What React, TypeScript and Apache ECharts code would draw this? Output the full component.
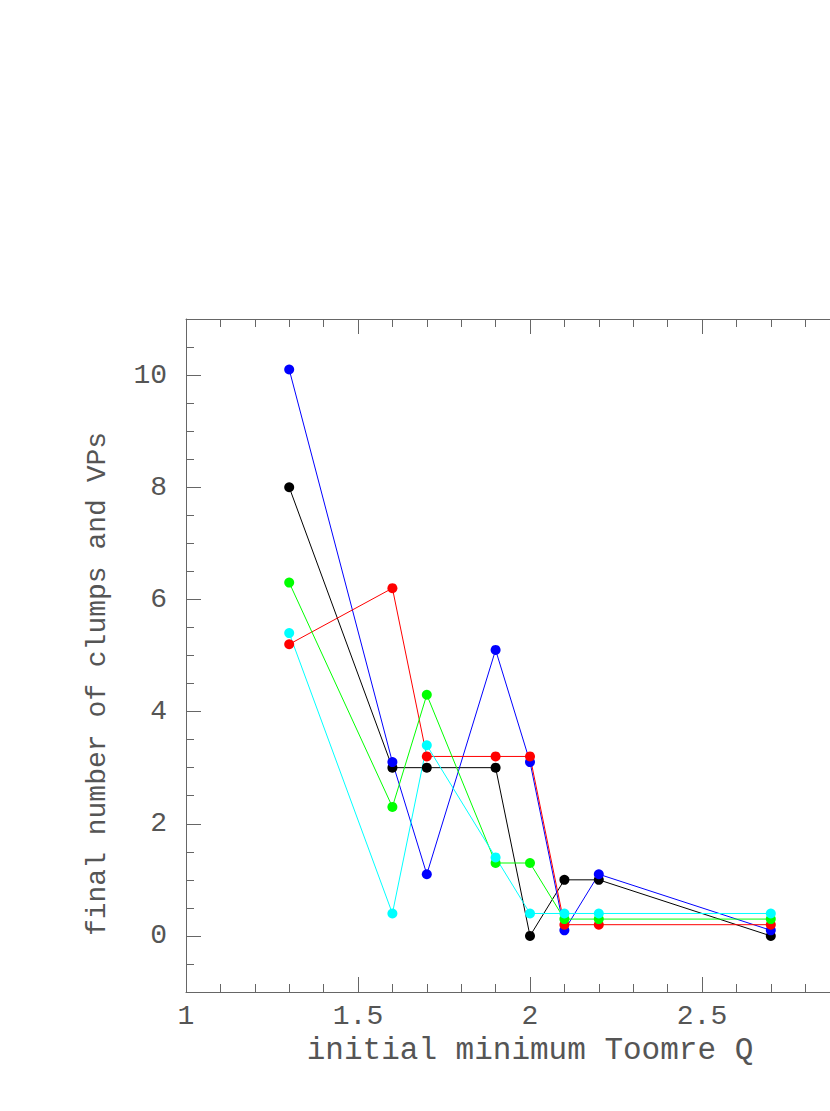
import React, { useEffect, useRef } from "react";
import * as echarts from "echarts";

const qValues = [1.3, 1.6, 1.7, 1.9, 2.0, 2.1, 2.2, 2.7];
const blackCounts = [8, 3, 3, 3, 0, 1, 1, 0];
const blueCounts = [10.1, 3.1, 1.1, 5.1, 3.1, 0.1, 1.1, 0.1];
const redCounts = [5.2, 6.2, 3.2, 3.2, 3.2, 0.2, 0.2, 0.2];
const greenCounts = [6.3, 2.3, 4.3, 1.3, 1.3, 0.3, 0.3, 0.3];
const cyanCounts = [5.4, 0.4, 3.4, 1.4, 0.4, 0.4, 0.4, 0.4];

const yMajor = [0, 2, 4, 6, 8, 10];
const yMinor = [-1, -0.5, 0, 0.5, 1, 1.5, 2, 2.5, 3, 3.5, 4, 4.5, 5, 5.5, 6, 6.5, 7, 7.5, 8, 8.5, 9, 9.5, 10, 10.5, 11];
const xLabelValues = [1, 1.5, 2, 2.5];

const seriesDefs = [
  { name: "black", color: "#000000", data: blackCounts },
  { name: "blue", color: "#0000ff", data: blueCounts },
  { name: "red", color: "#ff0000", data: redCounts },
  { name: "green", color: "#00ff00", data: greenCounts },
  { name: "cyan", color: "#00ffff", data: cyanCounts },
];

const AXIS_COLOR = "#666666";
const TEXT_COLOR = "#555555";
const FONT = "'Liberation Mono', 'DejaVu Sans Mono', monospace";

export default function App() {
  const ref = useRef<HTMLDivElement>(null);
  useEffect(() => {
    if (!ref.current) return;
    const chart = echarts.init(ref.current, undefined, { renderer: "svg" });
    const xCommon = {
      type: "value",
      min: 1,
      max: 3,
      splitLine: { show: false },
    };
    const yCommon = {
      type: "value",
      min: -1,
      max: 11,
      splitLine: { show: false },
    };
    chart.setOption({
      animation: false,
      backgroundColor: "#ffffff",
      grid: { left: 186, top: 319, width: 688, height: 673, containLabel: false },
      xAxis: [
        {
          ...xCommon,
          position: "bottom",
          interval: 0.5,
          axisLine: { show: true, onZero: false, lineStyle: { color: AXIS_COLOR, width: 1 } },
          axisTick: { show: true, inside: true, length: 15, lineStyle: { color: AXIS_COLOR } },
          axisLabel: {
            show: true,
            customValues: xLabelValues,
            margin: 10,
            color: TEXT_COLOR,
            fontFamily: FONT,
            fontSize: 28,
          },
          name: "initial minimum Toomre Q",
          nameLocation: "middle",
          nameGap: 34,
          nameTextStyle: { color: TEXT_COLOR, fontFamily: FONT, fontSize: 31 },
        },
        {
          ...xCommon,
          position: "bottom",
          interval: 0.1,
          axisLine: { show: false, onZero: false },
          axisTick: { show: true, inside: true, length: 8, lineStyle: { color: AXIS_COLOR } },
          axisLabel: { show: false },
        },
        {
          ...xCommon,
          position: "top",
          interval: 0.5,
          axisLine: { show: true, onZero: false, lineStyle: { color: AXIS_COLOR, width: 1 } },
          axisTick: { show: true, inside: true, length: 15, lineStyle: { color: AXIS_COLOR } },
          axisLabel: { show: false },
        },
        {
          ...xCommon,
          position: "top",
          interval: 0.1,
          axisLine: { show: false, onZero: false },
          axisTick: { show: true, inside: true, length: 8, lineStyle: { color: AXIS_COLOR } },
          axisLabel: { show: false },
        },
      ],
      yAxis: [
        {
          ...yCommon,
          position: "left",
          axisLine: { show: true, onZero: false, lineStyle: { color: AXIS_COLOR, width: 1 } },
          axisTick: { show: true, inside: true, length: 15, customValues: yMajor, lineStyle: { color: AXIS_COLOR } },
          axisLabel: {
            show: true,
            customValues: yMajor,
            margin: 19,
            color: TEXT_COLOR,
            fontFamily: FONT,
            fontSize: 28,
          },
        },
        {
          ...yCommon,
          position: "left",
          axisLine: { show: false, onZero: false },
          axisTick: { show: true, inside: true, length: 8, customValues: yMinor, lineStyle: { color: AXIS_COLOR } },
          axisLabel: { show: false },
        },
        {
          ...yCommon,
          position: "right",
          axisLine: { show: true, onZero: false, lineStyle: { color: AXIS_COLOR, width: 1 } },
          axisTick: { show: false },
          axisLabel: { show: false },
        },
      ],
      graphic: [
        {
          type: "text",
          x: 97,
          y: 684,
          rotation: Math.PI / 2,
          style: {
            text: "final number of clumps and VPs",
            fill: TEXT_COLOR,
            font: `28px ${FONT}`,
            align: "center",
            verticalAlign: "middle",
          },
        },
      ],
      series: seriesDefs.map((s) => ({
        type: "line",
        name: s.name,
        xAxisIndex: 0,
        yAxisIndex: 0,
        data: qValues.map((q, i) => [q, s.data[i]]),
        symbol: "circle",
        symbolSize: 10,
        showSymbol: true,
        lineStyle: { color: s.color, width: 1 },
        itemStyle: { color: s.color, borderWidth: 0 },
        z: 2,
      })),
    });
    return () => chart.dispose();
  }, []);
  return (
    <div style={{ position: "fixed", left: 0, top: 0, width: 830, height: 1111, overflow: "hidden", background: "#fff" }}>
      <div ref={ref} style={{ width: 1000, height: 1111 }} />
    </div>
  );
}
